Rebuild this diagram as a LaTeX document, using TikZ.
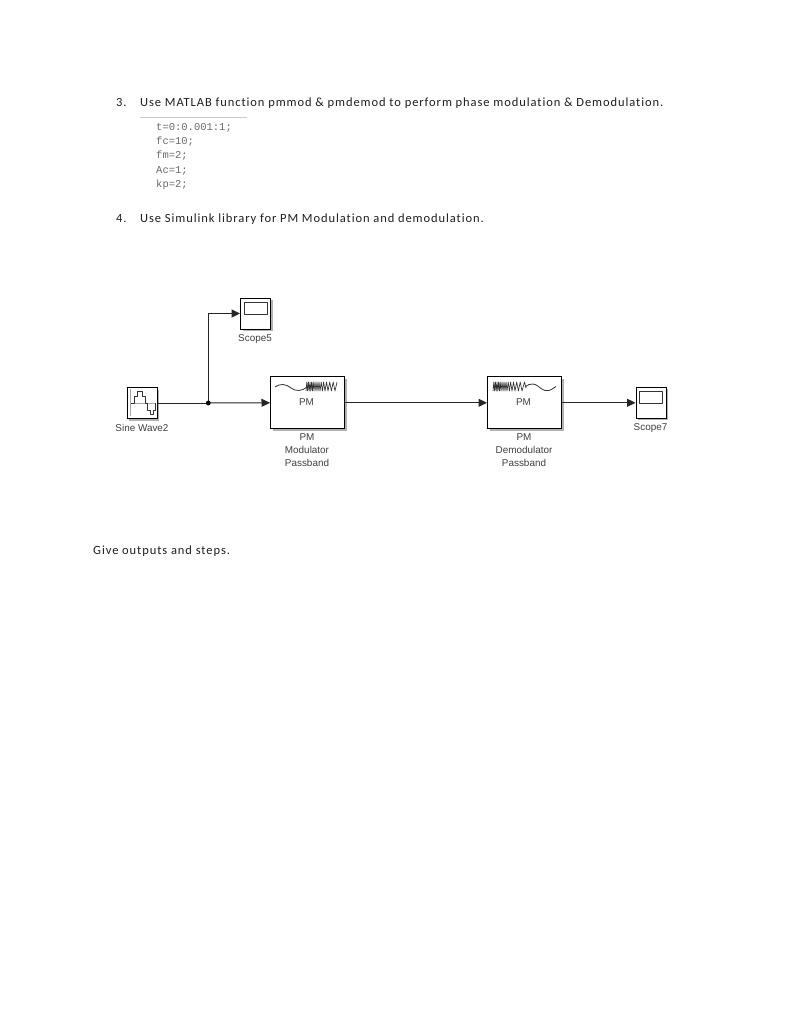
\documentclass[tikz,border=0pt]{standalone}
\usepackage{fontspec}
\setmainfont{Carlito}[LetterSpace=7.4,Ligatures={NoCommon,NoRequired,NoContextual}]
\newfontfamily\blockfont{Liberation Sans}
\newfontfamily\codefont{Liberation Mono}
\usetikzlibrary{arrows.meta,shadows}
\definecolor{bodyink}{gray}{0.12}
\definecolor{codeink}{gray}{0.42}
\definecolor{wire}{gray}{0.15}
\definecolor{blocktext}{gray}{0.25}
\tikzset{
  x=1pt,y=-1pt,
  bodytext/.style={anchor=base west,inner sep=0pt,text=bodyink,font=\fontsize{12.5}{14}\selectfont},
  codeline/.style={anchor=base west,inner sep=0pt,text=codeink,font=\codefont\fontsize{10.5}{12}\selectfont},
  blockshape/.style={draw=black,line width=1pt,fill=white,inner sep=0pt,
    drop shadow={shadow xshift=2pt,shadow yshift=-2pt,fill=black,opacity=0.3}},
  blocklabel/.style={inner sep=0pt,text=blocktext,align=center,font=\blockfont\fontsize{9.9}{13.2}\selectfont},
  wirelink/.style={draw=wire,line width=1pt,-{Triangle[length=8.5pt,width=8pt]}},
  wireplain/.style={draw=wire,line width=1pt},
  icon/.style={draw=black!80,line width=0.8pt,line join=round}
}
\begin{document}
\begin{tikzpicture}
\useasboundingbox (0,0) rectangle (791,1024);
\fill[white] (0,0) rectangle (791,1024);
% page text
\node[bodytext] (n3) at (116,106.5) {3.};
\node[bodytext] (t3) at (140,106.5) {Use MATLAB function pmmod \& pmdemod to perform phase modulation \& Demodulation.};
\draw[black!20,line width=0.8pt] (140,117) -- (247,117);
\node[codeline] (c1) at (156,130.6) {t=0:0.001:1;};
\node[codeline] (c2) at (156,144.5) {fc=10;};
\node[codeline] (c3) at (156,159) {fm=2;};
\node[codeline] (c4) at (156,173.6) {Ac=1;};
\node[codeline] (c5) at (156,187.5) {kp=2;};
\node[bodytext] (n4) at (116,222.5) {4.};
\node[bodytext] (t4) at (140,222.5) {Use Simulink library for PM Modulation and demodulation.};
\node[bodytext] (give) at (93,554) {Give outputs and steps.};
% blocks
\node[blockshape,minimum width=30pt,minimum height=31pt] (scopeA) at (255.5,313.5) {};
\node[blockshape,minimum width=30pt,minimum height=31pt] (sine) at (142,403) {};
\node[blockshape,minimum width=74pt,minimum height=52pt] (mod) at (307.5,402.8) {};
\node[blockshape,minimum width=74pt,minimum height=52pt] (demod) at (524.5,402.8) {};
\node[blockshape,minimum width=30pt,minimum height=31pt] (scopeB) at (651,402.8) {};
% scope screens
\draw[icon] (244.5,302) rectangle (267,314);
\draw[icon] (639.5,391) rectangle (662,403);
% sine icon
\draw[black!35,line width=0.9pt] (130.5,389) -- (130.5,416);
\draw[black!35,line width=0.7pt] (130,403) -- (155,403);
\draw[icon,line width=0.9pt] (131,403) -- (134,403) -- (134,396) -- (137,396) -- (137,391.5) -- (142,391.5) -- (142,396) -- (145,396) -- (145,403) -- (147.5,403) -- (147.5,410) -- (150,410) -- (150,414.5) -- (153,414.5) -- (153,410) -- (155,410) -- (155,403);
% modulator icon
\draw[icon] plot[smooth] coordinates {(275,387) (279,385) (283,384.5) (287,385.5) (291,388) (295,390) (299,390.5) (303,389.5) (307,387)};
\draw[icon,line width=0.65pt] (306,391)--(306.8,382)--(307.6,391)--(308.4,382)--(309.2,391)--(310,382)--(310.8,391)--(311.6,382)--(312.4,391)--(313.2,382)--(314,391)--(315,382)--(316,391)--(317,382)--(318,391)--(319,382)--(320,391)--(321.2,382)--(322.4,391)--(323.6,382)--(325,391)--(326.5,382)--(328,391)--(329.7,382)--(331.4,391)--(333.2,382)--(335,391)--(337,382);
% demodulator icon
\draw[icon,line width=0.65pt] (493,391)--(493.8,382)--(494.6,391)--(495.4,382)--(496.2,391)--(497,382)--(497.8,391)--(498.6,382)--(499.4,391)--(500.2,382)--(501,391)--(502,382)--(503,391)--(504,382)--(505,391)--(506,382)--(507,391)--(508.2,382)--(509.4,391)--(510.6,382)--(512,391)--(513.5,382)--(515,391)--(516.7,382)--(518.4,391)--(520.2,382)--(522,391)--(524.5,382)--(526,388);
\draw[icon] plot[smooth] coordinates {(525,387) (529,384.5) (533,384) (537,385.5) (541,388.5) (545,390.5) (549,390.5) (553,388.5) (556,386.5)};
% block texts
\node[blocklabel] (pmA) at (306.5,402) {PM};
\node[blocklabel] (pmB) at (523.5,402) {PM};
\node[blocklabel] (lab5) at (255,339) {Scope5};
\node[blocklabel] (lab7) at (650.5,428.5) {Scope7};
\node[blocklabel] (labS) at (142,427.5) {Sine Wave2};
\node[blocklabel,anchor=north] (labM) at (307,433) {PM\\Modulator\\Passband};
\node[blocklabel,anchor=north] (labD) at (524,433) {PM\\Demodulator\\Passband};
% connectors
\coordinate (branch) at (208.3,403);
\draw[wireplain] (sine.east) -- (branch);
\draw[wirelink] (branch) -- (mod.west);
\draw[wirelink] (branch) |- (scopeA.west);
\fill[black] (branch) circle (2.4pt);
\draw[wirelink] (mod.east) -- (demod.west);
\draw[wirelink] (demod.east) -- (scopeB.west);
\end{tikzpicture}
\end{document}
